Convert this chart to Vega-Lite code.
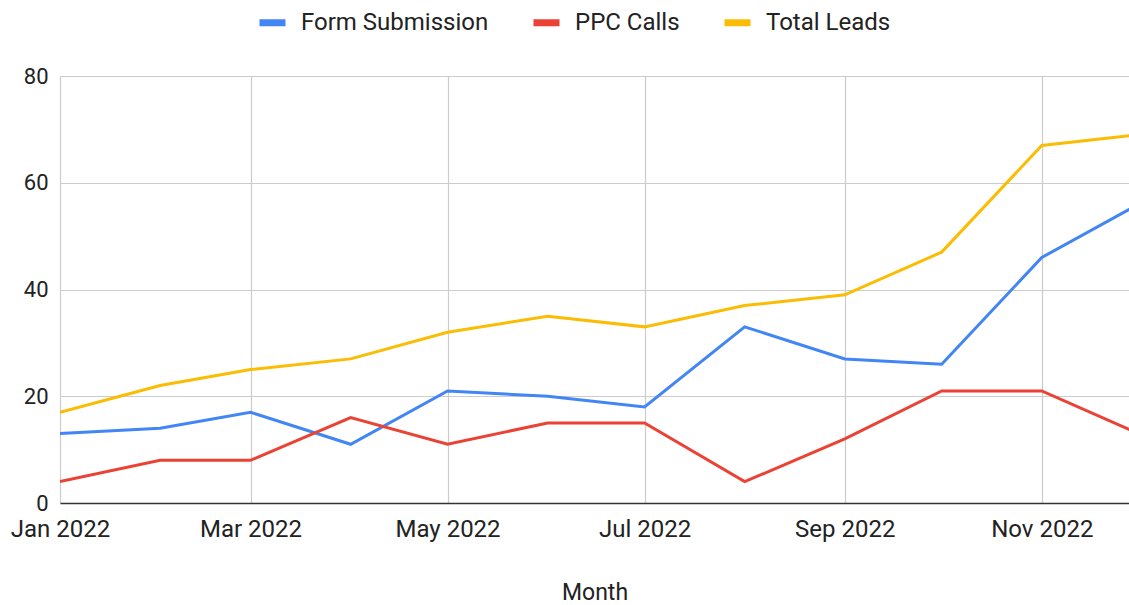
{
  "$schema": "https://vega.github.io/schema/vega-lite/v6.json",
  "width": 1069,
  "height": 427,
  "autosize": {"type": "none"},
  "padding": {"left": 60, "top": 76, "right": 0, "bottom": 102},
  "background": "white",
  "config": {
    "font": "Roboto",
    "view": {"stroke": null}
  },
  "data": {
    "values": [
      {"month": "2022-01-01", "series": "Form Submission", "value": 13},
      {"month": "2022-02-01", "series": "Form Submission", "value": 14},
      {"month": "2022-03-01", "series": "Form Submission", "value": 17},
      {"month": "2022-04-01", "series": "Form Submission", "value": 11},
      {"month": "2022-05-01", "series": "Form Submission", "value": 21},
      {"month": "2022-06-01", "series": "Form Submission", "value": 20},
      {"month": "2022-07-01", "series": "Form Submission", "value": 18},
      {"month": "2022-08-01", "series": "Form Submission", "value": 33},
      {"month": "2022-09-01", "series": "Form Submission", "value": 27},
      {"month": "2022-10-01", "series": "Form Submission", "value": 26},
      {"month": "2022-11-01", "series": "Form Submission", "value": 46},
      {"month": "2022-12-01", "series": "Form Submission", "value": 56},
      {"month": "2022-01-01", "series": "PPC Calls", "value": 4},
      {"month": "2022-02-01", "series": "PPC Calls", "value": 8},
      {"month": "2022-03-01", "series": "PPC Calls", "value": 8},
      {"month": "2022-04-01", "series": "PPC Calls", "value": 16},
      {"month": "2022-05-01", "series": "PPC Calls", "value": 11},
      {"month": "2022-06-01", "series": "PPC Calls", "value": 15},
      {"month": "2022-07-01", "series": "PPC Calls", "value": 15},
      {"month": "2022-08-01", "series": "PPC Calls", "value": 4},
      {"month": "2022-09-01", "series": "PPC Calls", "value": 12},
      {"month": "2022-10-01", "series": "PPC Calls", "value": 21},
      {"month": "2022-11-01", "series": "PPC Calls", "value": 21},
      {"month": "2022-12-01", "series": "PPC Calls", "value": 13},
      {"month": "2022-01-01", "series": "Total Leads", "value": 17},
      {"month": "2022-02-01", "series": "Total Leads", "value": 22},
      {"month": "2022-03-01", "series": "Total Leads", "value": 25},
      {"month": "2022-04-01", "series": "Total Leads", "value": 27},
      {"month": "2022-05-01", "series": "Total Leads", "value": 32},
      {"month": "2022-06-01", "series": "Total Leads", "value": 35},
      {"month": "2022-07-01", "series": "Total Leads", "value": 33},
      {"month": "2022-08-01", "series": "Total Leads", "value": 37},
      {"month": "2022-09-01", "series": "Total Leads", "value": 39},
      {"month": "2022-10-01", "series": "Total Leads", "value": 47},
      {"month": "2022-11-01", "series": "Total Leads", "value": 67},
      {"month": "2022-12-01", "series": "Total Leads", "value": 69}
    ]
  },
  "mark": {"type": "line", "strokeWidth": 3, "clip": true},
  "encoding": {
    "x": {
      "field": "month",
      "type": "temporal",
      "title": "Month",
      "scale": {"domain": [{"year": 2022, "month": 1, "date": 1}, {"year": 2022, "month": 11, "date": 28}]},
      "axis": {
        "format": "%b %Y",
        "values": [
          {"year": 2022, "month": 1, "date": 1},
          {"year": 2022, "month": 3, "date": 1},
          {"year": 2022, "month": 5, "date": 1},
          {"year": 2022, "month": 7, "date": 1},
          {"year": 2022, "month": 9, "date": 1},
          {"year": 2022, "month": 11, "date": 1}
        ],
        "ticks": false,
        "labelFontSize": 24,
        "labelColor": "#222222",
        "labelPadding": 14,
        "labelFlush": false,
        "domainColor": "#333333",
        "domainWidth": 1.5,
        "grid": true,
        "gridColor": "#cccccc",
        "gridWidth": 1.2,
        "titleFontSize": 23,
        "titleFontWeight": "normal",
        "titleColor": "#222222",
        "titlePadding": 40
      }
    },
    "y": {
      "field": "value",
      "type": "quantitative",
      "title": null,
      "scale": {"domain": [0, 80]},
      "axis": {
        "values": [0, 20, 40, 60, 80],
        "ticks": false,
        "domain": false,
        "labelFontSize": 22,
        "labelColor": "#222222",
        "labelPadding": 12,
        "gridColor": "#cccccc",
        "gridWidth": 1.2
      }
    },
    "color": {
      "field": "series",
      "type": "nominal",
      "scale": {
        "domain": ["Form Submission", "PPC Calls", "Total Leads"],
        "range": ["#4285F4", "#EA4335", "#FBBC04"]
      },
      "legend": {
        "title": null,
        "orient": "none",
        "legendX": 196,
        "legendY": -70,
        "direction": "horizontal",
        "symbolType": "stroke",
        "symbolStrokeWidth": 7,
        "symbolSize": 676,
        "labelFontSize": 24,
        "labelColor": "#222222",
        "labelOffset": 12,
        "labelLimit": 0,
        "columnPadding": 30
      }
    }
  }
}
